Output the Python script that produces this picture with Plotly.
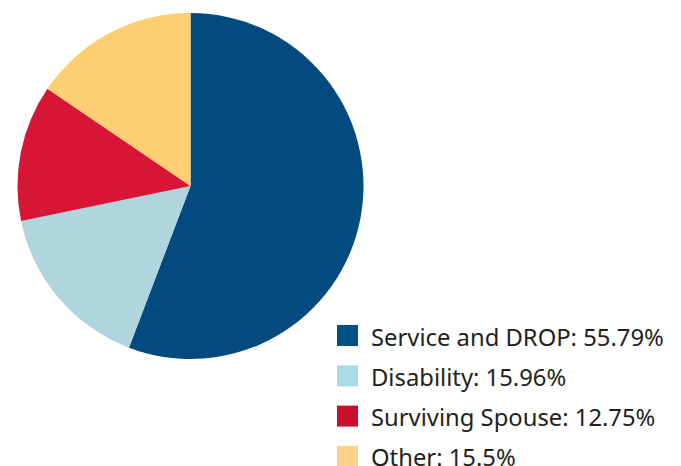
import plotly.graph_objects as go

# Benefit distribution by category
categories = ["Service and DROP", "Disability", "Surviving Spouse", "Other"]
shares = [55.79, 15.96, 12.75, 15.5]
slice_colors = ["#034a7e", "#b0d5df", "#d71636", "#fdce72"]
swatch_colors = ["#005088", "#a8dce6", "#c8102e", "#fdd08b"]

W, H = 681, 466

fig = go.Figure(
    go.Pie(
        labels=categories,
        values=shares,
        sort=False,
        direction="clockwise",
        rotation=0,
        marker=dict(colors=slice_colors, line=dict(width=0)),
        textinfo="none",
        hoverinfo="label+percent",
        showlegend=False,
        domain=dict(x=[17 / W, 364 / W], y=[(H - 359) / H, (H - 13) / H]),
    )
)

# Custom legend: square swatch plus "label: value%" text per row
row_top = 325       # top of first swatch (px from top)
row_step = 40.3
sw = 21
sw_left = 337
text_left = 369
shapes, annotations = [], []
for i, (name, val) in enumerate(zip(categories, shares)):
    top = row_top + i * row_step
    shapes.append(dict(
        type="rect", xref="paper", yref="paper",
        x0=sw_left / W, x1=(sw_left + sw) / W,
        y0=1 - (top + sw) / H, y1=1 - top / H,
        fillcolor=swatch_colors[i], line=dict(width=0),
    ))
    annotations.append(dict(
        xref="paper", yref="paper",
        x=text_left / W, y=1 - (top + sw / 2 + 1) / H,
        xanchor="left", yanchor="middle",
        text=f"{name}: {val:g}%", showarrow=False,
        font=dict(family="Noto Sans", size=23.8, color="#231f20"),
    ))

fig.update_layout(
    width=W, height=H,
    margin=dict(l=0, r=0, t=0, b=0),
    paper_bgcolor="white", plot_bgcolor="white",
    shapes=shapes, annotations=annotations,
)

fig.write_html("out.html")
